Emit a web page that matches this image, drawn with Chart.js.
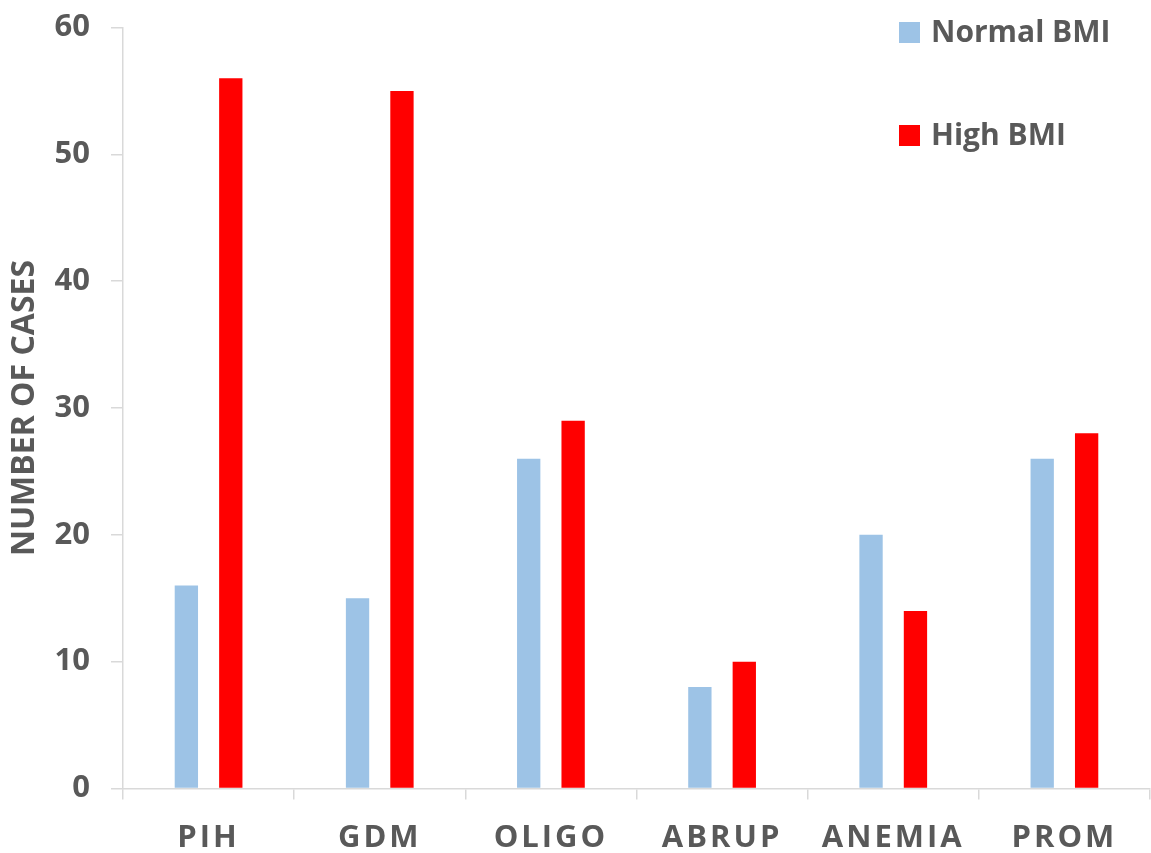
<!DOCTYPE html>
<html>
<head>
<meta charset="utf-8">
<script src="https://cdn.jsdelivr.net/npm/chart.js@4/dist/chart.umd.min.js"></script>
<style>
  html, body { margin: 0; padding: 0; background: #ffffff; }
  #wrap { width: 1151px; height: 853px; position: relative; }
</style>
</head>
<body>
<div id="wrap"><canvas id="c"></canvas></div>
<script>
const categories = ['PIH', 'GDM', 'OLIGO', 'ABRUP', 'ANEMIA', 'PROM'];
const normalBMI = [16, 15, 26, 8, 20, 26];
const highBMI = [56, 55, 29, 10, 14, 28];
const yTicks = [0, 10, 20, 30, 40, 50, 60];
const seriesLabels = ['Normal BMI', 'High BMI'];
const seriesColors = ['#9DC3E6', '#FF0000'];

const TEXT = '#595959';
const AXIS = '#D9D9D9';
const FONT = "'Open Sans', 'Noto Sans', sans-serif";

const legendPlugin = {
  id: 'cornerLegend',
  afterDraw(chart) {
    const ctx = chart.ctx;
    ctx.save();
    ctx.font = 'bold 30px ' + FONT;
    ctx.textBaseline = 'middle';
    ctx.textAlign = 'left';
    const rows = [32.5, 135.5];
    chart.data.datasets.forEach((ds, i) => {
      ctx.fillStyle = ds.backgroundColor;
      ctx.fillRect(899, rows[i] - 10.5, 21, 21);
      ctx.fillStyle = TEXT;
      ctx.fillText(ds.label, 931, rows[i] + 1);
    });
    ctx.restore();
  }
};

const spacingPlugin = {
  id: 'xLabelSpacing',
  beforeDraw(chart) {
    const s = chart.scales.x;
    if (!s || s._spaced) return;
    const orig = s.drawLabels;
    s.drawLabels = function (ca) {
      const ctx = this.ctx;
      ctx.save();
      ctx.letterSpacing = '3px';
      orig.call(this, ca);
      ctx.restore();
    };
    s._spaced = true;
  }
};

new Chart(document.getElementById('c'), {
  type: 'bar',
  data: {
    labels: categories,
    datasets: [
      { label: seriesLabels[0], data: normalBMI, backgroundColor: seriesColors[0],
        categoryPercentage: 0.519, barPercentage: 0.525 },
      { label: seriesLabels[1], data: highBMI, backgroundColor: seriesColors[1],
        categoryPercentage: 0.519, barPercentage: 0.525 }
    ]
  },
  options: {
    responsive: true,
    maintainAspectRatio: false,
    animation: false,
    layout: { padding: { top: 27.5, right: 1, bottom: 0, left: 0 } },
    plugins: {
      legend: { display: false },
      tooltip: { enabled: false }
    },
    scales: {
      x: {
        afterFit(scale) { scale.height = 64.5; scale.paddingLeft = 0; scale.paddingRight = 0; },
        grid: { display: true, drawOnChartArea: false, drawTicks: true, tickLength: 11, color: AXIS, lineWidth: 1.5 },
        border: { display: true, color: AXIS, width: 1.5 },
        ticks: { color: TEXT, font: { family: FONT, size: 31, weight: 'bold' }, padding: 20, maxRotation: 0, autoSkip: false }
      },
      y: {
        min: 0, max: 60,
        afterFit(scale) { scale.width = 123; scale.paddingTop = 0; scale.paddingBottom = 0; },
        afterBuildTicks(scale) { scale.ticks = yTicks.map(v => ({ value: v })); },
        grid: { display: true, drawOnChartArea: false, drawTicks: true, tickLength: 12, color: AXIS, lineWidth: 1.5 },
        border: { display: true, color: AXIS, width: 1.5 },
        ticks: { color: TEXT, font: { family: FONT, size: 31, weight: 'bold' }, padding: 21 },
        title: { display: true, text: 'NUMBER OF CASES', color: TEXT,
                 font: { family: FONT, size: 32, weight: 'bold' }, padding: { top: 6, bottom: 0 } }
      }
    }
  },
  plugins: [legendPlugin, spacingPlugin]
});
</script>
</body>
</html>
